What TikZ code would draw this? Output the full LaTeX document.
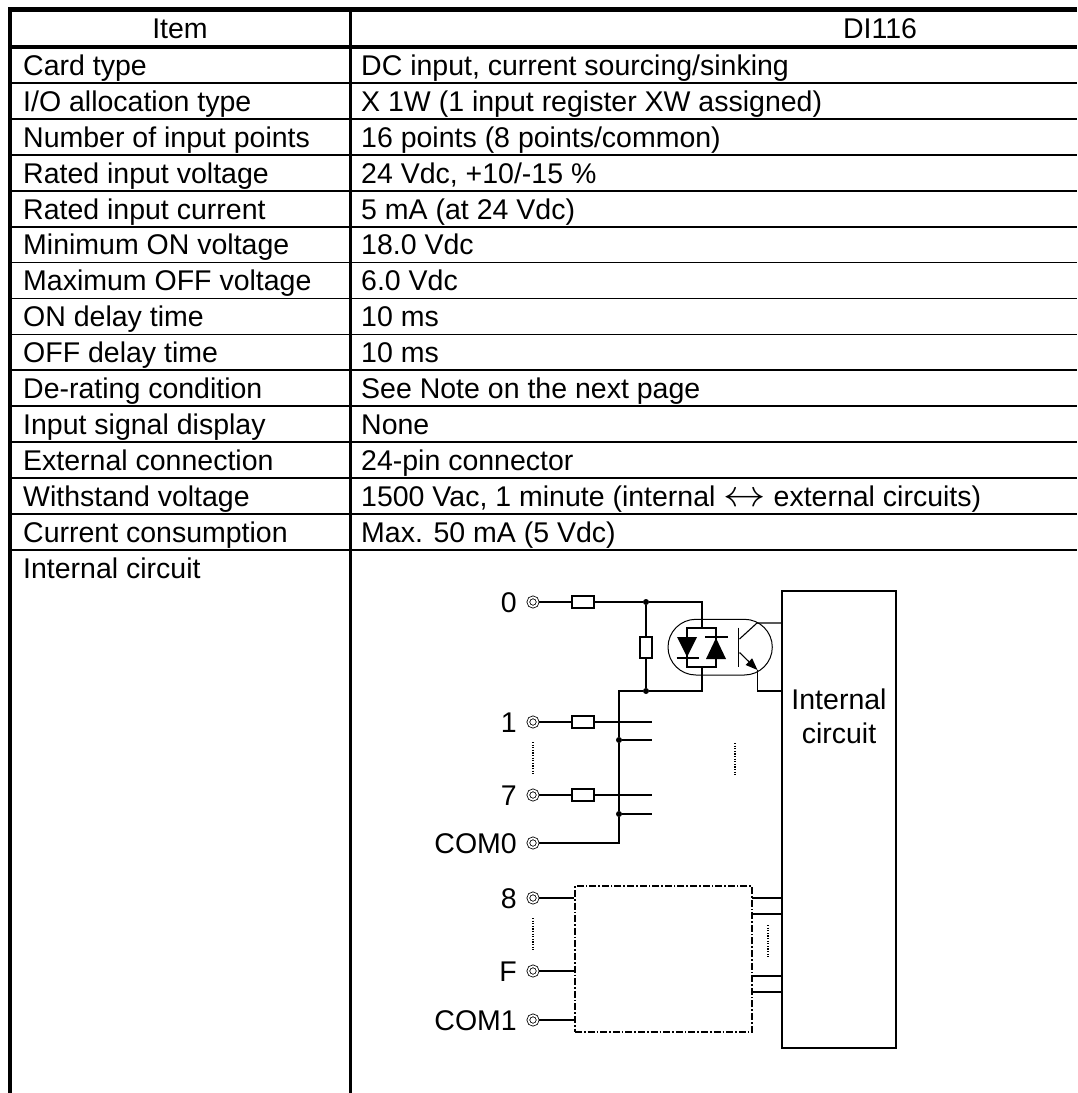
\documentclass[tikz,border=0pt]{standalone}
\usepackage{fontspec}
\setmainfont{Liberation Sans}
\usetikzlibrary{arrows.meta}
\begin{document}
\begin{tikzpicture}[x=1pt,y=-1pt,
  font=\fontsize{28.5}{34}\selectfont,
  cell/.style={anchor=base west, inner sep=0pt},
  lab/.style={anchor=base east, inner sep=0pt},
  heavy/.style={line width=4.4pt},
  rowline/.style={line width=1.8pt},
  wire/.style={line width=1.1pt},
  term/.style={circle, draw, double, double distance=1.8pt, line width=0.8pt, minimum size=9.4pt, inner sep=0pt, outer sep=1.7pt},
  res/.style={draw, fill=white, line width=1.1pt, minimum width=22pt, minimum height=12pt, inner sep=0pt},
  vres/.style={draw, fill=white, line width=1.1pt, minimum width=12pt, minimum height=21pt, inner sep=0pt},
  jdot/.style={circle, fill=black, minimum size=6pt, inner sep=0pt},
  dotline/.style={line width=1.3pt, dash pattern=on 1.2pt off 1.4pt},
  dashdotbox/.style={draw, line width=1.7pt, dash pattern=on 7pt off 2pt on 1.6pt off 2pt, minimum width=177pt, minimum height=146pt, inner sep=0pt},
  ]
\useasboundingbox (0,0) rectangle (1077,1093);
% ---------- table frame ----------
\draw[line width=4pt] (10.3,7.3) -- (10.3,1093);
\draw[heavy] (8.3,9.5) -- (1077,9.5);
\draw[heavy] (8.3,47) -- (1077,47);
\foreach \k in {1,...,14}{
  \draw[rowline] (10,{47+35.93*\k}) -- (1077,{47+35.93*\k});
}
\draw[line width=3pt] (350,7.3) -- (350,1093);
% ---------- header ----------
\node[anchor=base, inner sep=0pt] (hItem) at (180,38.5) {Item};
\node[anchor=base, inner sep=0pt] (hDI) at (880,38.5) {DI116};
% ---------- rows ----------
\node[cell] (l1) at (23,75.3) {Card type};
\node[cell] (v1) at (361,75.3) {DC input, current sourcing/sinking};
\node[cell] (l2) at (23,111.2) {I/O allocation type};
\node[cell] (v2) at (361,111.2) {X 1W (1 input register XW assigned)};
\node[cell] (l3) at (23,147.1) {Number of input points};
\node[cell] (v3) at (361,147.1) {16 points (8 points/common)};
\node[cell] (l4) at (23,183.0) {Rated input voltage};
\node[cell] (v4) at (361,183.0) {24 Vdc, +10/-15 \%};
\node[cell] (l5) at (23,219.0) {Rated input current};
\node[cell] (v5) at (361,219.0) {5 mA (at 24 Vdc)};
\node[cell] (l6) at (23,254.9) {Minimum ON voltage};
\node[cell] (v6) at (361,254.9) {18.0 Vdc};
\node[cell] (l7) at (23,290.8) {Maximum OFF voltage};
\node[cell] (v7) at (361,290.8) {6.0 Vdc};
\node[cell] (l8) at (23,326.7) {ON delay time};
\node[cell] (v8) at (361,326.7) {10 ms};
\node[cell] (l9) at (23,362.7) {OFF delay time};
\node[cell] (v9) at (361,362.7) {10 ms};
\node[cell] (l10) at (23,398.6) {De-rating condition};
\node[cell] (v10) at (361,398.6) {See Note on the next page};
\node[cell] (l11) at (23,434.5) {Input signal display};
\node[cell] (v11) at (361,434.5) {None};
\node[cell] (l12) at (23,470.5) {External connection};
\node[cell] (v12) at (361,470.5) {24-pin connector};
\node[cell] (l13) at (23,506.4) {Withstand voltage};
\node[cell] (v13) at (361,506.4) {1500 Vac, 1 minute (internal \scalebox{1.7}[1.5]{$\leftrightarrow$} external circuits)};
\node[cell] (l14) at (23,542.3) {Current consumption};
\node[cell] (v14) at (361,542.3) {Max. 50 mA (5 Vdc)};
\node[cell] (l15) at (23,578.5) {Internal circuit};
% ---------- circuit: terminals and labels ----------
\node[term] (t0) at (533,602) {};
\node[term] (t1) at (533,722) {};
\node[term] (t7) at (533,795) {};
\node[term] (tc0) at (533,843) {};
\node[term] (t8) at (533,898) {};
\node[term] (tf) at (533,971) {};
\node[term] (tc1) at (533,1020) {};
\node[lab] (n0) at (517,612.3) {0};
\node[lab] (n1) at (517,732.3) {1};
\node[lab] (n7) at (517,805.3) {7};
\node[lab] (nc0) at (517,853.3) {COM0};
\node[lab] (n8) at (517,908.3) {8};
\node[lab] (nf) at (517,981.3) {F};
\node[lab] (nc1) at (517,1030.3) {COM1};
\draw[dotline] (533,742) -- (533,775);
\draw[dotline] (533,918) -- (533,951);
% ---------- input network ----------
\node[res] (r0) at (583,602) {};
\node[res] (r1) at (583,722) {};
\node[res] (r7) at (583,795) {};
\node[vres] (rv) at (646,647.5) {};
\node[jdot] (j1) at (646,602) {};
\node[jdot] (j2) at (646,691) {};
\node[jdot] (j3) at (619,740) {};
\node[jdot] (j4) at (619,814) {};
\coordinate (btop) at (702,628);
\coordinate (bbot) at (702,667);
\coordinate (cbend) at (619,691);
\coordinate (c1end) at (652,722);
\coordinate (c1b) at (652,740);
\coordinate (c7end) at (652,795);
\coordinate (c7b) at (652,814);
\coordinate (ccom) at (619,843);
\draw[wire] (t0) -- (r0) -- (j1) -| (btop);
\draw[wire] (j1) -- (rv) -- (j2);
\draw[wire] (bbot) |- (j2) -- (cbend) -- (j3) -- (j4) -- (ccom) -- (tc0);
\draw[wire] (t1) -- (r1) -- (c1end);
\draw[wire] (j3) -- (c1b);
\draw[wire] (t7) -- (r7) -- (c7end);
\draw[wire] (j4) -- (c7b);
\draw[dotline] (735,743) -- (735,775);
% ---------- photocoupler ----------
\draw[line width=1pt, rounded corners=27.9pt] (668,619.3) rectangle (772.3,675);
\node[draw, line width=1.1pt, minimum width=29pt, minimum height=39pt, inner sep=0pt] (bridge) at (701.5,647.5) {};
\fill (677,637) -- (697,637) -- (687,657) -- cycle;
\draw[line width=1.1pt] (676.5,658) -- (698.5,658);
\fill (706,659) -- (726,659) -- (716,638) -- cycle;
\draw[line width=1.1pt] (705,637) -- (727.5,637);
\draw[line width=1.3pt] (738.5,627.5) -- (738.5,666.5);
% ---------- internal circuit block ----------
\node[draw, line width=1.3pt, minimum width=114pt, minimum height=457pt, inner sep=0pt] (ibox) at (839,819.5) {};
\node[anchor=base, inner sep=0pt] (it1) at (839,709.5) {Internal};
\node[anchor=base, inner sep=0pt] (it2) at (839,743.5) {circuit};
\coordinate (ccol) at (757,623);
\coordinate (cemi) at (757.5,670);
\draw[wire] (739.5,639) -- (ccol) -- (ccol -| ibox.west);
\draw[wire, -{Triangle[length=12pt,width=9pt]}] (739.5,652.5) -- (cemi);
\draw[wire] (cemi) -- (757.5,691) -- (ibox.west |- j2);
% ---------- second group ----------
\node[dashdotbox] (dbox) at (663.5,959) {};
\draw[wire] (t8) -- (t8 -| dbox.west);
\draw[wire] (tf) -- (tf -| dbox.west);
\draw[wire] (tc1) -- (tc1 -| dbox.west);
\foreach \yy in {898,914,976,992}{
  \draw[wire] (752,\yy) -- (782,\yy);
}
\draw[dotline] (768,925) -- (768,957);
\end{tikzpicture}
\end{document}
